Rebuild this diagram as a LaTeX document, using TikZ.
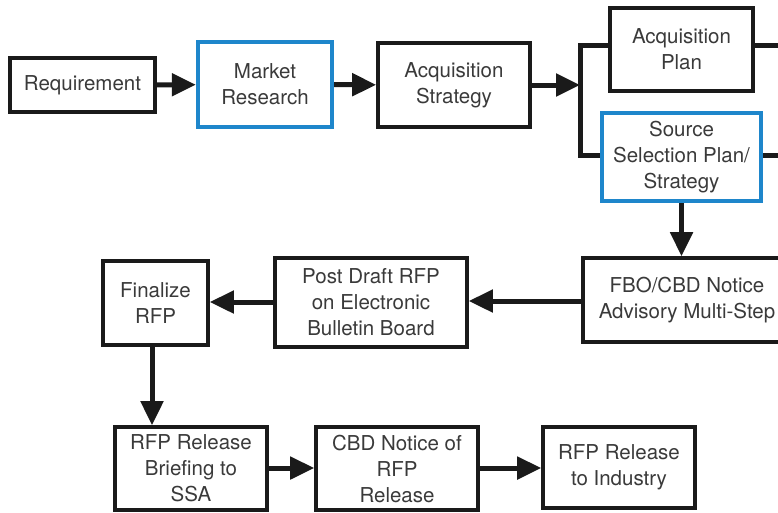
\documentclass[tikz,border=0pt]{standalone}
\usepackage{fontspec}
\setmainfont{TeX Gyre Heros}
\usepackage{xcolor}
\usepackage{tikz}
\usetikzlibrary{positioning,calc,arrows.meta}
\definecolor{acqblue}{HTML}{1E86CB}
\definecolor{acqtext}{HTML}{3A3A3A}
\definecolor{acqline}{HTML}{1A1A1A}

\begin{document}
\begin{tikzpicture}[
  x=1pt, y=-1pt,
  box/.style={draw=acqline, line width=3.6pt, fill=white, align=center, inner sep=0pt,
    font=\fontsize{20.5}{26}\selectfont, text=acqtext},
  bluebox/.style={box, draw=acqblue, line width=4.4pt},
  flow/.style={-{Triangle[length=24pt,width=22pt]}, line width=5pt, draw=acqline},
  bracket/.style={line width=5pt, draw=acqline},
]
\useasboundingbox (0,0) rectangle (778,512);
\clip (0,0) rectangle (778,512);
% ---------- top row ----------
\node[box, minimum width=145pt, minimum height=54pt] (req) at (82.5,85) {Requirement};
\node[bluebox, minimum width=134pt, minimum height=85pt] (mkt) at (265,84.5) {Market\\Research};
\node[box, minimum width=152pt, minimum height=84pt] (strat) at (454,85) {Acquisition\\Strategy};
\node[box, minimum width=143pt, minimum height=83pt] (plan) at (681.5,49.5) {Acquisition\\Plan};
\node[bluebox, minimum width=159pt, minimum height=88pt] (ssp) at (681.5,157) {Source\\Selection Plan/\\Strategy};
% bracket round plan and ssp
\coordinate (brtop) at (580,45);
\coordinate (brbot) at (580,155);
\coordinate (brin) at (580,85);
\coordinate (edgetop) at (800,45);
\coordinate (edgebot) at (800,155);
\draw[bracket] (plan.west |- brtop) -- (brtop) -- (brbot) -- (ssp.west |- brbot);
\draw[bracket] (plan.east |- brtop) -- (edgetop);
\draw[bracket] (ssp.east |- brbot) -- (edgebot);
\draw[flow] (req) -- (mkt);
\draw[flow] (mkt) -- (strat);
\draw[flow] (strat.east |- brin) -- (brin);

% ---------- middle row ----------
\node[box, minimum width=208pt, minimum height=84pt] (fbo) at (687,300) {FBO/CBD Notice\\Advisory Multi-Step};
\node[box, minimum width=192pt, minimum height=89pt] (post) at (371,302.5) {Post Draft RFP\\on Electronic\\Bulletin Board};
\node[box, minimum width=105pt, minimum height=84pt] (fin) at (155.5,303) {Finalize\\RFP};
\draw[flow] (ssp.south) -- (ssp.south |- fbo.north);
\draw[flow] (fbo.west |- 0,301) -- (post.east |- 0,301);
\draw[flow] (post.west |- 0,302) -- (fin.east |- 0,302);

% ---------- bottom row ----------
\node[box, minimum width=152pt, minimum height=83pt] (brief) at (191,468.5) {RFP Release\\Briefing to\\SSA};
\node[box, minimum width=162pt, minimum height=83pt] (cbd) at (397,468.5) {CBD Notice of\\RFP\\Release};
\node[box, minimum width=152pt, minimum height=81pt] (ind) at (619,467.5) {RFP Release\\to Industry};
\draw[flow] (fin.south -| 152,0) -- (brief.north -| 152,0);
\draw[flow] (brief.east |- 0,468) -- (cbd.west |- 0,468);
\draw[flow] (cbd.east |- 0,468) -- (ind.west |- 0,468);
\end{tikzpicture}
\end{document}
